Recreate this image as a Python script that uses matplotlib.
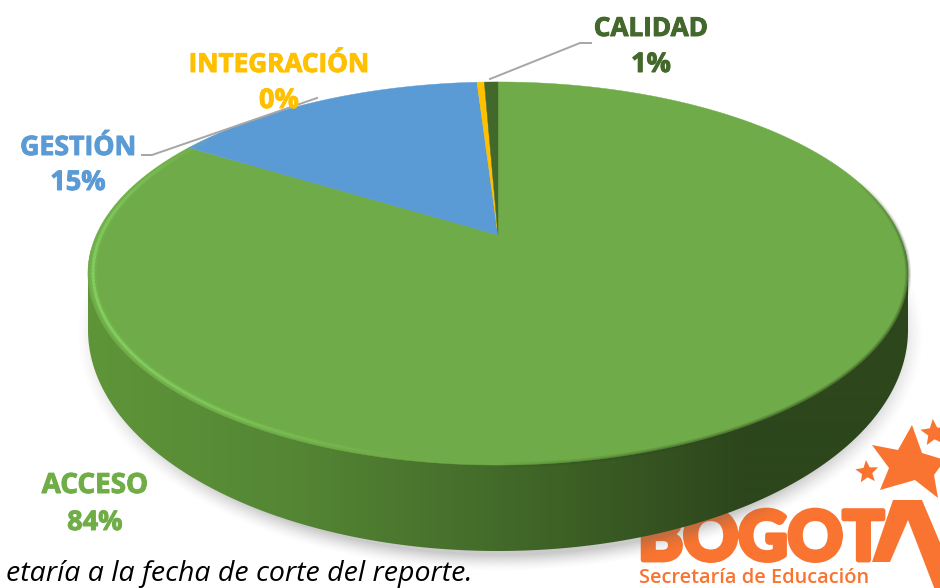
import numpy as np
import matplotlib
matplotlib.use('Agg')
import matplotlib.pyplot as plt
import matplotlib.patheffects as pe
from matplotlib.patches import Polygon
from matplotlib.collections import LineCollection
from matplotlib.colors import LinearSegmentedColormap, to_rgb

categories = ['ACCESO', 'GESTIÓN', 'INTEGRACIÓN', 'CALIDAD']
values = [83.8, 15.2, 0.35, 0.65]
pct_labels = ['84%', '15%', '0%', '1%']
colors = ['#70AD47', '#5B9BD5', '#FFC000', '#43682B']

W, H = 940, 588
CX, CY = 498, 235      # apex of the pie on the page
A, B, K = 401.7, 183.8, 0.201   # fake perspective of the top face
LOGO = '#F97430'


def project(frac, r=1.0):
    # frac runs clockwise from 12 o'clock, 1 = full turn
    t = 2 * np.pi * np.asarray(frac)
    u, v = r * np.sin(t), r * np.cos(t)
    w = 1 + K * v
    return CX + A * u / w, CY - B * v / w


def star(cx, cy, r, rot=0.0, inner=0.45):
    ang = np.radians(rot) + np.arange(10) * np.pi / 5
    rad = np.where(np.arange(10) % 2 == 0, r, r * inner)
    return np.c_[cx + rad * np.sin(ang), cy - rad * np.cos(ang)]


def rim_segments(start, stop, r=1.0):
    x, y = project(np.linspace(start, stop, 300), r)
    pts = np.c_[x, y].reshape(-1, 1, 2)
    return np.concatenate([pts[:-1], pts[1:]], axis=1)


fig = plt.figure(figsize=(W / 100, H / 100), dpi=100)
ax = fig.add_axes([0, 0, 1, 1])
ax.set_xlim(0, W)
ax.set_ylim(H, 0)
ax.axis('off')

# logo sits behind the pie
ax.text(638, 560, 'BOGOT', family='Lato', weight='black', fontsize=49, color=LOGO, ha='left', va='baseline',
        zorder=1, path_effects=[pe.withStroke(linewidth=3.5, foreground=LOGO)])
ax.add_patch(Polygon([(893, 500), (922, 500), (960, 590), (935, 590), (908, 520), (890, 562), (872, 562)],
                     fc=LOGO, ec='none', zorder=1))
ax.add_patch(Polygon([(912, 425), (922, 453), (945, 460), (934, 475), (938, 498), (915, 480), (880, 490),
                      (889, 468), (872, 445), (898, 450)], fc=LOGO, ec='none', zorder=1))
ax.add_patch(Polygon(star(867, 472, 12, rot=-5), fc=LOGO, ec='none', zorder=1))
ax.add_patch(Polygon(star(934, 433, 14, rot=-5), fc=LOGO, ec='none', zorder=1))
ax.text(639, 583, 'Secretaría de Educación', family='Open Sans', weight='semibold', fontsize=14.4, color=LOGO,
        ha='left', va='baseline', zorder=1)

# footer
ax.text(472, 581, 'etaría a la fecha de corte del reporte.', family='Open Sans', style='italic', fontsize=20.5,
        color='black', ha='right', va='baseline', zorder=1)

# soft shadow under the disc
yy, xx = np.mgrid[0:H, 0:W]
rho = np.sqrt(((xx - 500) / 424.0) ** 2 + ((yy - 335) / 236.0) ** 2)
alpha = np.clip((1.0 - rho) / 0.07, 0, 1) ** 1.5 * 0.32
shadow = np.zeros((H, W, 4))
shadow[..., :3] = 0.35
shadow[..., 3] = alpha
ax.imshow(shadow, extent=(0, W, H, 0), aspect='auto', zorder=2, interpolation='bilinear')

# side wall, horizontal gradient
t = np.linspace(0, 1, 200)
low_x = 498 - 410 * np.cos(np.pi * t)
low_y = 330 + 221 * np.sin(np.pi * t)
up_x = 498 + 410 * np.cos(np.pi * t)
up_y = 273 - 191.5 * np.sin(np.pi * t)
wall = Polygon(np.c_[np.r_[low_x, up_x], np.r_[low_y, up_y]], closed=True, fc='none', ec='none',
               transform=ax.transData)
ax.add_patch(wall)
side_cmap = LinearSegmentedColormap.from_list('side', [
    (0.0, '#5F9539'), (0.25, '#548634'), (0.45, '#47702C'), (0.62, '#3A5C24'), (0.8, '#2D461C'), (1.0, '#2D461C')])
grad = ax.imshow(np.linspace(0, 1, 820)[None, :], cmap=side_cmap, extent=(88, 908, 560, 250), aspect='auto',
                 zorder=3, interpolation='bilinear')
grad.set_clip_path(wall)

# top face wedges from the values
shares = np.array(values) / sum(values)
edges = np.r_[0, np.cumsum(shares)]
for i, (start, stop) in enumerate(zip(edges[:-1], edges[1:])):
    fr = np.linspace(start, stop, max(4, int(600 * (stop - start))))
    x, y = project(fr)
    face = '#6FAB48' if i == 0 else colors[i]
    ax.add_patch(Polygon(np.c_[np.r_[CX, x], np.r_[CY, y]], closed=True, fc=face, ec=face, lw=0.3, zorder=4))

# rim light on the lower left, just inside the edge
segs = rim_segments(0.52, 0.86, 0.988)
glow = np.sin(np.linspace(0, np.pi, len(segs))) ** 1.2
for lw, a, col in [(5, 0.3, '#7CC455'), (2.2, 0.75, '#8CD868')]:
    rgba = np.c_[np.tile(to_rgb(col), (len(segs), 1)), glow * a]
    ax.add_collection(LineCollection(segs, colors=rgba, linewidths=lw, zorder=5))

# rim shade on the right
segs = rim_segments(0.2, 0.5)
fade = np.sin(np.linspace(0, np.pi, len(segs))) ** 0.7
for lw, a in [(4, 0.22), (2, 0.4)]:
    rgba = np.c_[np.tile(to_rgb('#2D461C'), (len(segs), 1)), fade * a]
    ax.add_collection(LineCollection(segs, colors=rgba, linewidths=lw, zorder=5))

# leader lines
ax.plot([142, 152, 317], [155, 155, 98], color='#A6A6A6', lw=1.4, zorder=6, solid_joinstyle='round')
ax.plot([490, 580, 591], [79, 43, 43], color='#A6A6A6', lw=1.4, zorder=6, solid_joinstyle='round')

# labels, baselines
label_pos = [(95, 493, 530), (78, 155, 190), (279, 72, 108), (651, 36, 72)]
name_sizes = [20, 19.2, 18.8, 18.8]
for name, pct, col, (lx, ly1, ly2), fs in zip(categories, pct_labels, colors, label_pos, name_sizes):
    fx = [pe.withStroke(linewidth=0.7, foreground=col)]
    ax.text(lx, ly1, name, family='Open Sans', weight='bold', fontsize=fs, color=col, ha='center', va='baseline',
            zorder=7, path_effects=fx)
    ax.text(lx, ly2, pct, family='Open Sans', weight='bold', fontsize=19.5, color=col, ha='center', va='baseline',
            zorder=7, path_effects=fx)

fig.savefig('out.png', dpi=100)
